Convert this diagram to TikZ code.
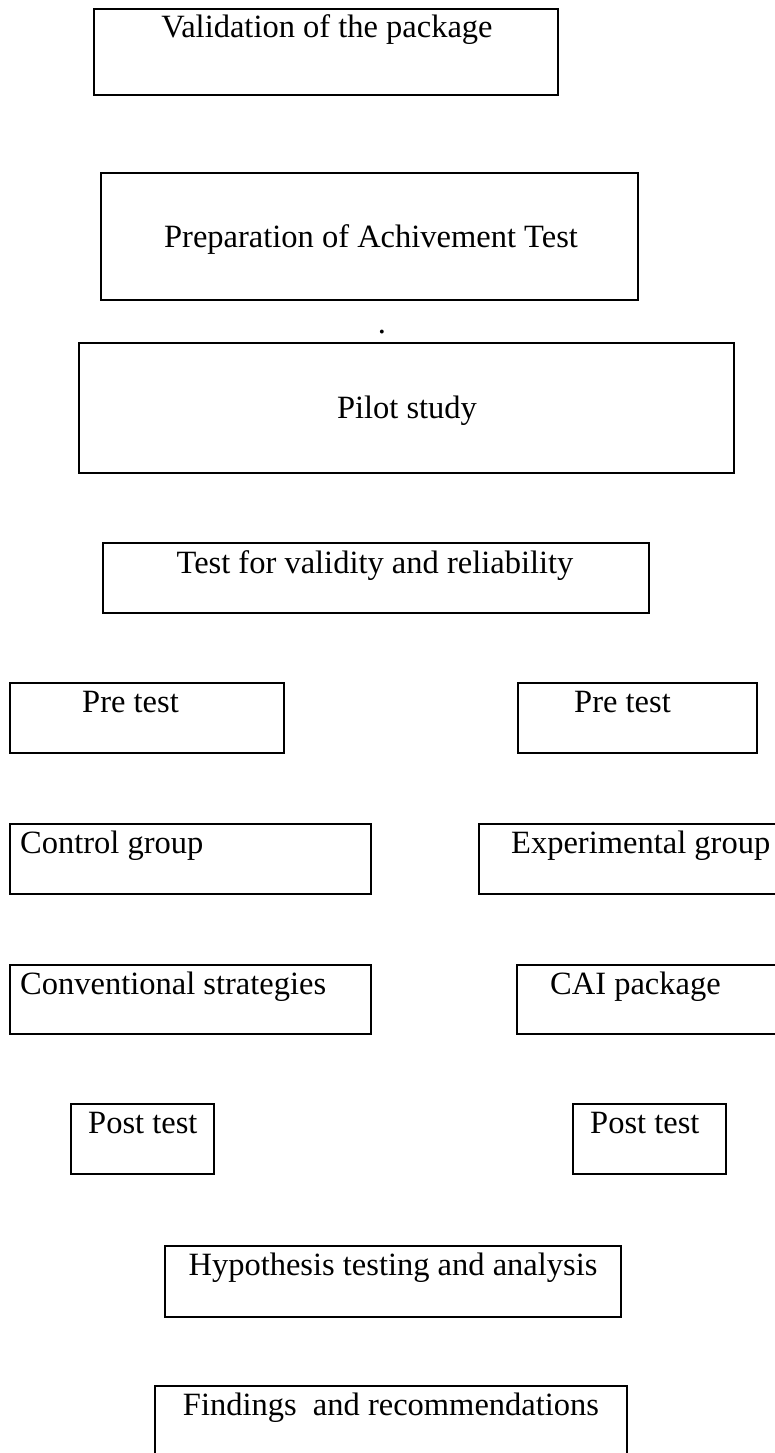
\documentclass[tikz,border=0pt]{standalone}
\usepackage{fontspec}
\setmainfont{Liberation Serif}
\usetikzlibrary{fit}
\begin{document}
\begin{tikzpicture}[x=1pt,y=-1pt,
  box/.style={draw=black, line width=1.9pt, inner sep=0pt, outer sep=0pt, rectangle},
  txt/.style={inner sep=0pt, font=\fontsize{32.5}{40}\selectfont, text=black},
  ctxt/.style={txt, anchor=base},
  ltxt/.style={txt, anchor=base west}]
\useasboundingbox (0,0) rectangle (775,1453);
\clip (0,0) rectangle (775,1453);
\fill[white] (0,0) rectangle (775,1453);
% boxes
\node[box, fit={(94,9) (558,95)}] (val) {};
\node[box, fit={(101,173) (638,300)}] (prep) {};
\node[box, fit={(79,343) (734,473)}] (pilot) {};
\node[box, fit={(103,543) (649,613)}] (test) {};
\node[box, fit={(10,683) (284,753)}] (preL) {};
\node[box, fit={(518,683) (757,753)}] (preR) {};
\node[box, fit={(10,824) (371,894)}] (ctrl) {};
\node[box, fit={(479,824) (800,894)}] (expg) {};
\node[box, fit={(10,965) (371,1034)}] (conv) {};
\node[box, fit={(517,965) (800,1034)}] (cai) {};
\node[box, fit={(71,1104) (214,1174)}] (postL) {};
\node[box, fit={(573,1104) (726,1174)}] (postR) {};
\node[box, fit={(165,1246) (621,1317)}] (hyp) {};
\node[box, fit={(155,1386) (627,1500)}] (find) {};
% texts
\node[ctxt] (valt) at (327,38) {Validation of the package};
\node[ctxt] (prept) at (371,247) {Preparation of Achivement Test};
\node[ctxt] (dot) at (382,333) {.};
\node[ctxt] (pilott) at (407,418) {Pilot study};
\node[ctxt] (testt) at (375,573) {Test for validity and reliability};
\node[ltxt] (preLt) at (82,712) {Pre test};
\node[ltxt] (preRt) at (574,712) {Pre test};
\node[ltxt] (ctrlt) at (20,853) {Control group};
\node[ltxt] (expgt) at (511,853) {Experimental group};
\node[ltxt] (convt) at (20,994) {Conventional strategies};
\node[ltxt] (cait) at (550,994) {CAI package};
\node[ltxt] (postLt) at (88,1133) {Post test};
\node[ltxt] (postRt) at (590,1133) {Post test};
\node[ctxt] (hypt) at (393,1275) {Hypothesis testing and analysis};
\node[ctxt] (findt) at (391,1415) {Findings\ \ and recommendations};
\end{tikzpicture}
\end{document}
